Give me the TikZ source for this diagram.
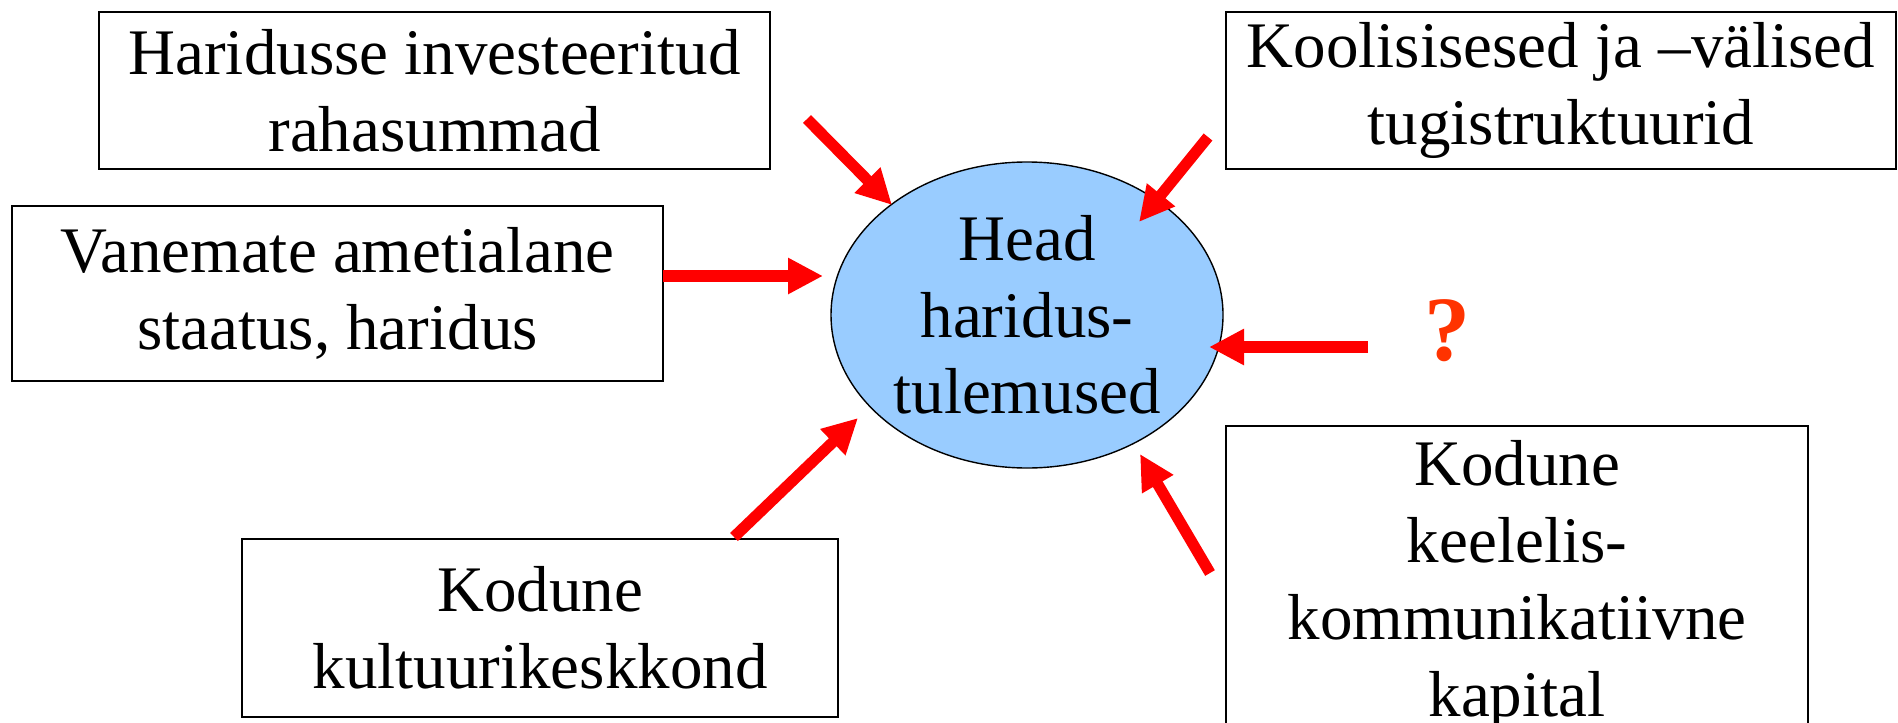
\documentclass[tikz,border=0pt]{standalone}
\usepackage{fontspec}
\setmainfont{Liberation Serif}
\usetikzlibrary{arrows.meta,shapes.geometric}
\definecolor{bubble}{HTML}{99CCFF}
\definecolor{arrowred}{HTML}{FF0000}
\definecolor{qred}{HTML}{FF3300}
\begin{document}
\begin{tikzpicture}[x=0.5pt,y=-0.5pt,
  factor/.style={draw=black, line width=1.2pt, fill=white, align=center,
    inner sep=0pt, font=\fontsize{32.5pt}{38.5pt}\selectfont},
  outcome/.style={ellipse, draw=black, line width=0.7pt, fill=bubble,
    align=center, inner sep=0pt, font=\fontsize{32.5pt}{38.3pt}\selectfont},
  push/.style={draw=arrowred, line width=5.6pt,
    -{Triangle[length=17.5pt,width=17pt]}},
  query/.style={text=qred, inner sep=0pt,
    font=\fontsize{46pt}{50pt}\selectfont\bfseries}]
\useasboundingbox (0,0) rectangle (1898,722);
\clip (0,0) rectangle (1898,722);

% central outcome
\node[outcome, minimum width=196pt, minimum height=153pt] (H) at (1027,315)
  {Head\\haridus-\\tulemused};

% influencing factors
\node[factor, minimum width=335.5pt, minimum height=78.5pt] (A) at (434.5,90.5)
  {Haridusse investeeritud\\rahasummad};
\node[factor, minimum width=325.5pt, minimum height=87.5pt] (B) at (337.5,293.5)
  {Vanemate ametialane\\staatus, haridus};
\node[factor, minimum width=298pt, minimum height=89pt] (C) at (540,628)
  {Kodune\\kultuurikeskkond};
\node[factor, minimum width=335pt, minimum height=78.5pt] (D) at (1561,90.5)
  {Koolisisesed ja –välised\\tugistruktuurid};
\node[factor, minimum width=291pt, minimum height=159pt] (E) at (1517,585)
  {Kodune\\keelelis-\\kommunikatiivne\\kapital};
\node[query] (Q) at (1447,331) {?};

% arrow ends
\coordinate (a1s) at (807,119);  \coordinate (a1e) at (892,205);
\coordinate (a2s) at (1208,137); \coordinate (a2e) at (1139,222);
\coordinate (a3s) at (663,276);  \coordinate (a3e) at (823,276);
\coordinate (a4s) at (1368,347); \coordinate (a4e) at (1209,347);
\coordinate (a5s) at (734,537);  \coordinate (a5e) at (858,418);
\coordinate (a6s) at (1210,573); \coordinate (a6e) at (1140,454);

\draw[push] (a1s) -- (a1e);
\draw[push] (a2s) -- (a2e);
\draw[push] (a3s) -- (a3e);
\draw[push] (a4s) -- (a4e);
\draw[push] (a5s) -- (a5e);
\draw[push] (a6s) -- (a6e);
\end{tikzpicture}
\end{document}
